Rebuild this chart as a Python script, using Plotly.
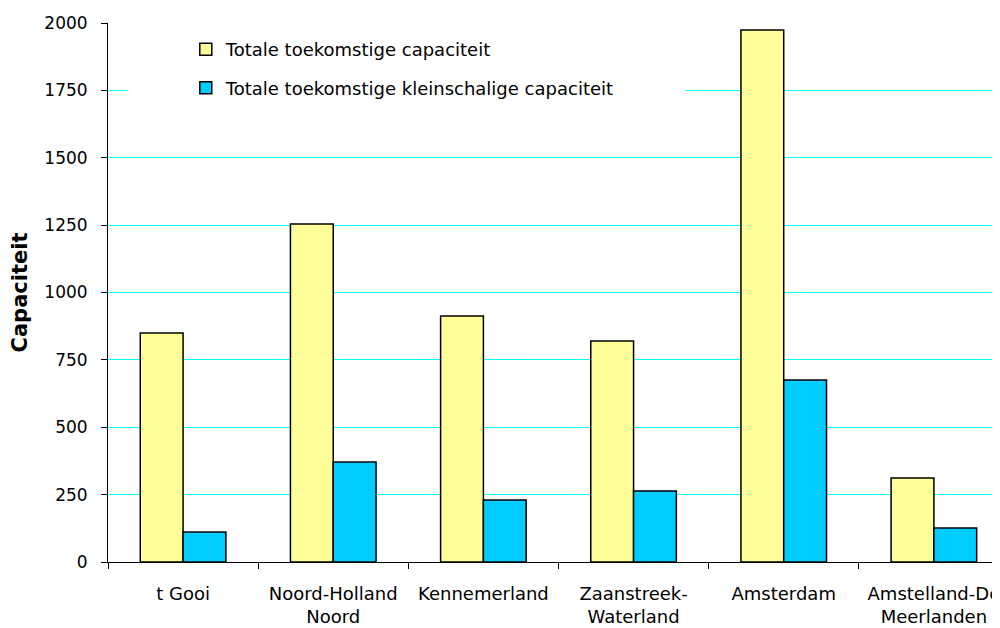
import plotly.graph_objects as go

regios = ["t Gooi", "Noord-Holland<br>Noord", "Kennemerland", "Zaanstreek-<br>Waterland",
          "Amsterdam", "Amstelland-De<br>Meerlanden"]
totaal = [850, 1254, 913, 820, 1974, 312]
kleinschalig = [111, 371, 230, 263, 675, 126]

fig = go.Figure()

fig.add_trace(go.Bar(
    x=regios,
    y=totaal,
    name='Totale toekomstige capaciteit',
    marker_color='#FFFF99',
    marker_line_color='black',
    marker_line_width=1.5,
    legendgroup='a'
))

fig.add_trace(go.Bar(
    x=regios,
    y=kleinschalig,
    name='Totale toekomstige kleinschalige capaciteit',
    marker_color='#00CCFF',
    marker_line_color='black',
    marker_line_width=1.5,
    legendgroup='b'
))

# witte achtergrond achter de legenda (verbergt de rasterlijn)
fig.add_shape(type='rect', xref='paper', yref='paper',
              x0=0.022, x1=0.649, y0=0.85, y1=0.985,
              fillcolor='white', line_width=0, layer='above')

fig.update_layout(
    width=992,
    height=620,
    margin=dict(l=100, r=0, t=15, b=66),  # pagina heeft 8px body-marge
    paper_bgcolor='white',
    plot_bgcolor='white',
    font=dict(family='DejaVu Sans, Arial, sans-serif', size=17, color='black'),
    barmode='group',
    bargap=0.43,
    bargroupgap=0,
    legend=dict(
        x=0.0874, y=0.985, xanchor='left', yanchor='top',
        bgcolor='rgba(0,0,0,0)',
        font=dict(size=18),
        tracegroupgap=12,
        traceorder='grouped'
    ),
    xaxis=dict(
        range=[-0.5, 5.427],
        showline=True, linecolor='black', linewidth=1,
        ticks='outside', tickson='boundaries', ticklen=6, tickcolor='black',
        ticklabelstandoff=15,
        tickfont=dict(size=18),
        showgrid=False
    ),
    yaxis=dict(
        range=[0, 2000],
        tickvals=[0, 250, 500, 750, 1000, 1250, 1500, 1750, 2000],
        showline=True, linecolor='black', linewidth=1,
        ticks='outside', ticklen=6, tickcolor='black',
        ticklabelstandoff=10,
        showgrid=True, gridcolor='#00FFFF', gridwidth=1,
        zeroline=False,
        title=dict(text='<b>Capaciteit</b>', font=dict(size=21), standoff=16)
    )
)

fig.write_html("out.html")
